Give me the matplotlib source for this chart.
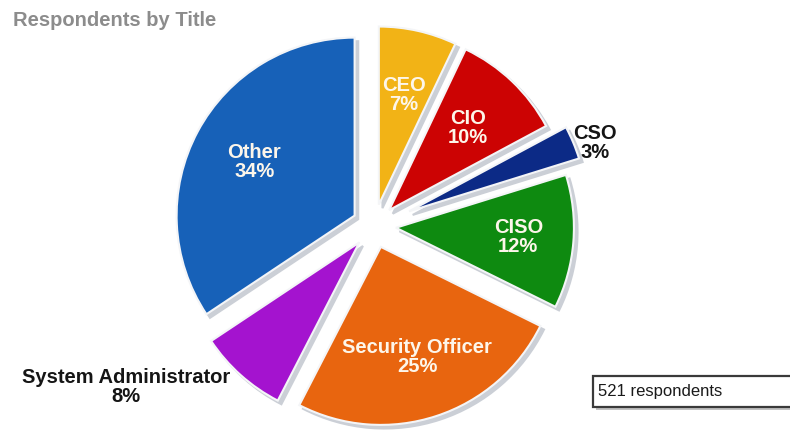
import matplotlib.pyplot as plt
import numpy as np
from matplotlib.patches import Rectangle

plt.rcParams['font.family'] = ['Liberation Sans', 'DejaVu Sans']

# survey breakdown, clockwise from 12 o'clock
titles = ['CEO', 'CIO', 'CSO', 'CISO', 'Security Officer', 'System Administrator', 'Other']
shares = [7, 10, 3, 12, 25, 8, 34]
n_respondents = 521

colors = ['#f2b316', '#cc0303', '#0c2a86', '#0e8a10', '#e8650f', '#a413cf', '#1761b8']
explode = [22, 22, 38, 22, 22, 22, 22]          # offsets in pixel units
label_dist = [0.63, 0.64, 1.0, 0.69, 0.65, 1.09, 0.64]
outside = [False, False, True, False, False, True, False]

fig = plt.figure(figsize=(7.9, 4.3), dpi=100)
ax = fig.add_axes([0, 0, 1, 1])

wedges, _ = ax.pie(shares, colors=colors, explode=explode, startangle=90,
                   counterclock=False, center=(374, 204), radius=178,
                   wedgeprops=dict(edgecolor='#f4f5f7', linewidth=1.5),
                   shadow={'ox': 2.6, 'oy': -2.6, 'facecolor': '#cbcfd6',
                           'edgecolor': '#cbcfd6', 'alpha': 1})

# slice labels: white inside, dark outside
for w, name, pct, d, out in zip(wedges, titles, shares, label_dist, outside):
    ang = np.deg2rad((w.theta1 + w.theta2) / 2)
    cx, cy = w.center
    x = cx + d * w.r * np.cos(ang)
    y = cy + d * w.r * np.sin(ang)
    if out:
        ha = 'left' if np.cos(ang) > 0 else 'right'
        col = '#151515'
    else:
        ha = 'center'
        col = '#fdf6ea'
    ax.text(x, y, f'{name}\n{pct}%', ha=ha, va='center', multialignment='center',
            color=col, fontsize=14.5, fontweight='bold', linespacing=1.0)

ax.set_xlim(0, 790)
ax.set_ylim(0, 430)
ax.set_aspect('auto')
ax.axis('off')

fig.text(13 / 790, 1 - 26 / 430, 'Respondents by Title', color='#8c8c8c',
         fontsize=14.5, fontweight='bold', va='baseline')

# respondent count box with a soft drop shadow
ax.add_patch(Rectangle((596, 20), 230, 31, facecolor='#9a9a9a', edgecolor='none', alpha=0.6))
ax.add_patch(Rectangle((593, 23), 230, 31, facecolor='white', edgecolor='#3a3a3a', linewidth=1.6))
ax.text(598, 38.5, f'{n_respondents} respondents', fontsize=12, va='center', color='#1a1a1a')

fig.savefig('out.png', dpi=100)
